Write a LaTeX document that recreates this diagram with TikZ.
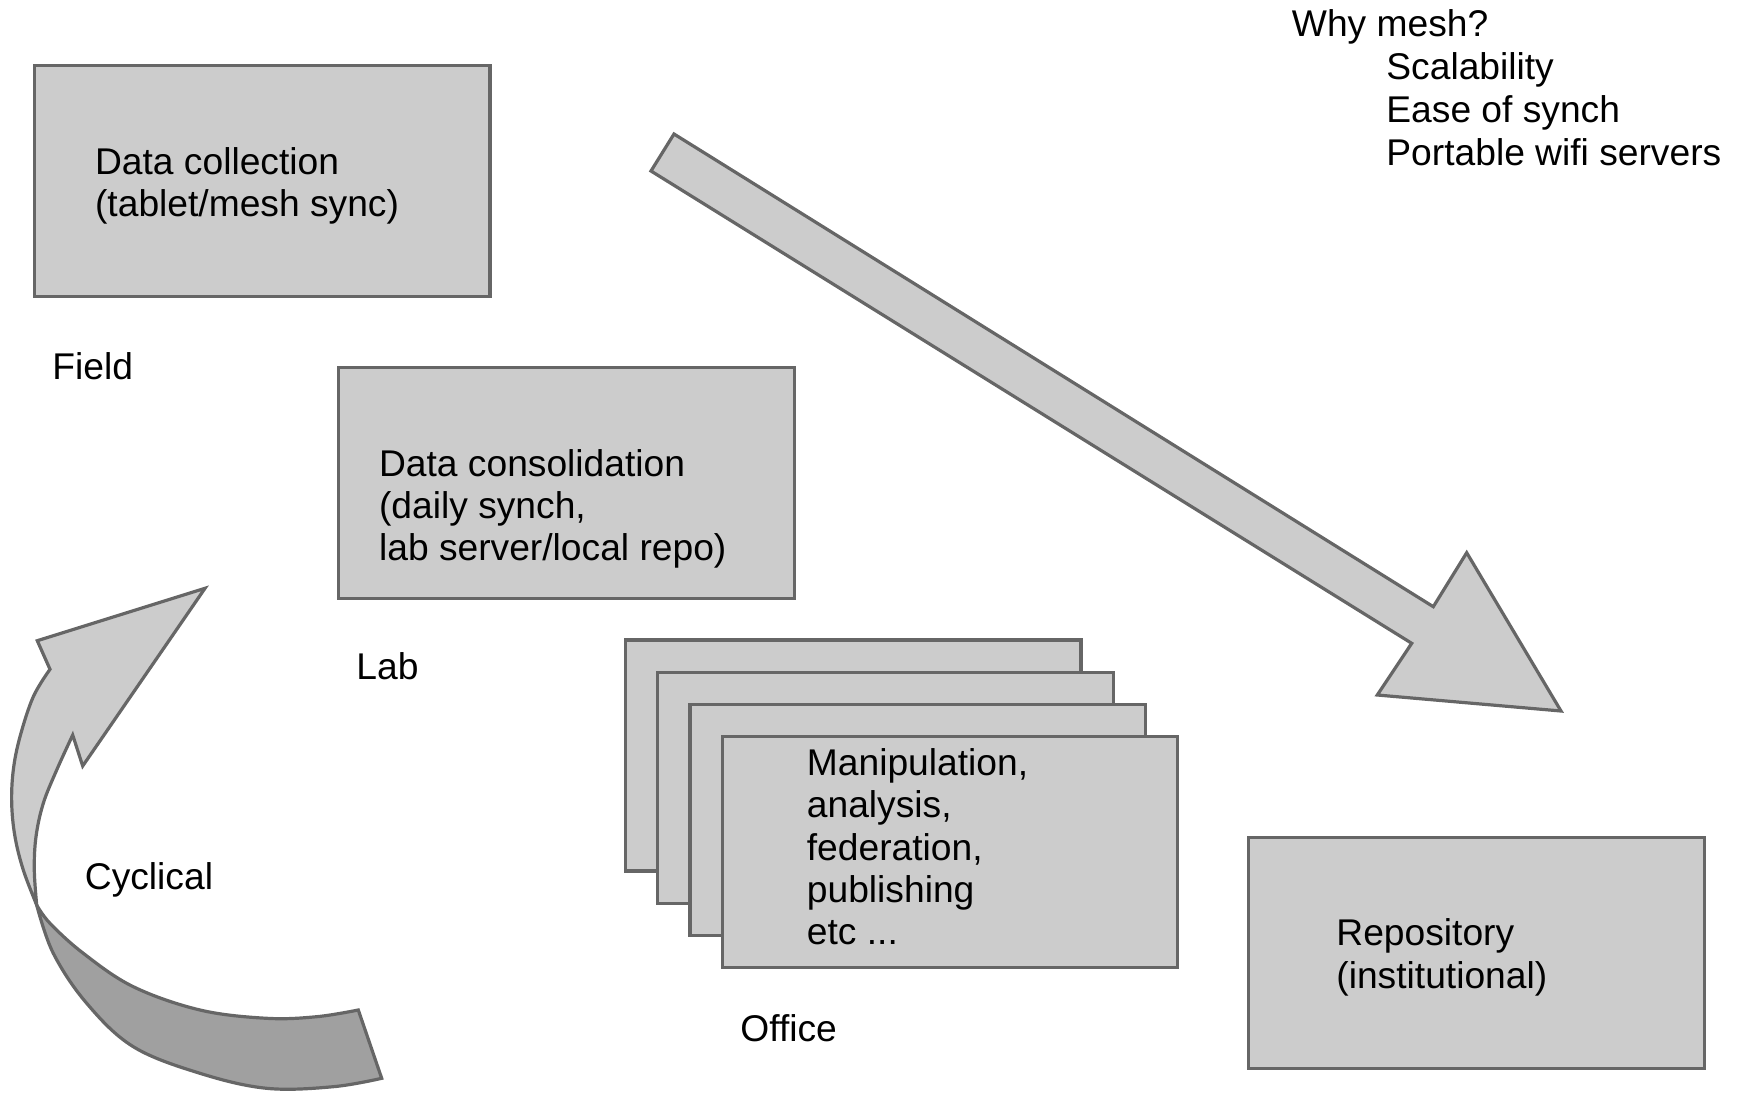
\documentclass[tikz,border=0pt]{standalone}
\usepackage{fontspec}
\setmainfont{Liberation Sans}
\definecolor{boxfill}{HTML}{CCCCCC}
\definecolor{boxline}{HTML}{666666}
\definecolor{backband}{HTML}{A0A0A0}
\begin{document}
\begin{tikzpicture}[x=0.5pt,y=-0.5pt,
  box/.style={draw=boxline, fill=boxfill, line width=1.6pt, minimum width=227.75pt, minimum height=115.5pt, inner sep=0pt},
  txt/.style={anchor=base west, inner sep=0pt, font=\fontsize{18.6}{22}\selectfont},
  shp/.style={draw=boxline, line width=1.6pt, line join=miter}]
\useasboundingbox (0,0) rectangle (1742,1098);

% boxes
\node[box] (collect) at (262.2,181) {};
\node[box] (consol) at (566.6,483.3) {};
\node[box] (officeA) at (853.2,755.5) {};
\node[box] (officeB) at (885.5,787.7) {};
\node[box] (officeC) at (917.7,820) {};
\node[box] (officeD) at (950,852.2) {};
\node[box] (repo) at (1476.5,953.3) {};

% big arrow
\filldraw[shp, fill=boxfill] (674,134) -- (1433.3,606.7) -- (1466.7,552.7) -- (1561,711)
  -- (1377.3,695) -- (1411.7,643.3) -- (651,171) -- cycle;

% curved arrow: back side of ribbon
\filldraw[shp, fill=backband] (36.7,905)
  -- plot[smooth, tension=0.6] coordinates {(36.7,905) (50,923.3) (83.3,953.3) (133.3,986.7) (200,1010) (266.7,1018.3) (316.7,1016.7) (358.3,1010)}
  -- (381.7,1078.3)
  -- plot[smooth, tension=0.6] coordinates {(381.7,1078.3) (333.3,1086.7) (266.7,1088.3) (200,1073.3) (133.3,1046.7) (86.7,1003.3) (53.3,953.3) (36.7,905)}
  -- cycle;
% curved arrow: front side with head
\filldraw[shp, fill=boxfill] (72.7,735) -- (82.7,766) -- (205,588.3) -- (37.3,640.7) -- (50,669.3)
  -- plot[smooth, tension=0.6] coordinates {(50,669.3) (33.3,696.7) (20,736.7) (13.3,770) (11.7,803.3) (15,836.7) (23.3,870) (36.7,905)}
  -- plot[smooth, tension=0.6] coordinates {(36.7,905) (34.3,870) (36,836.7) (43.3,803.3) (56.7,770) (72.7,735)}
  -- cycle;

% texts
\node[txt] (c1) at (94.7,174) {Data collection};
\node[txt] (c2) at (94.7,216.3) {(tablet/mesh sync)};
\node[txt] (d1) at (378.7,476.3) {Data consolidation};
\node[txt] (d2) at (378.7,518.6) {(daily synch,};
\node[txt] (d3) at (378.7,560.9) {lab server/local repo)};
\node[txt] (m1) at (806.5,775.5) {Manipulation,};
\node[txt] (m2) at (806.5,817.8) {analysis,};
\node[txt] (m3) at (806.5,860.1) {federation,};
\node[txt] (m4) at (806.5,902.4) {publishing};
\node[txt] (m5) at (806.5,944.7) {etc ...};
\node[txt] (r1) at (1336,945.5) {Repository};
\node[txt] (r2) at (1336,988.5) {(institutional)};
\node[txt] (field) at (52,379.5) {Field};
\node[txt] (lab) at (356,679) {Lab};
\node[txt] (office) at (740,1041) {Office};
\node[txt] (cyc) at (84.5,889.5) {Cyclical};
\node[txt] (w0) at (1291.5,36.5) {Why mesh?};
\node[txt] (w1) at (1386,79.6) {Scalability};
\node[txt] (w2) at (1386,122.7) {Ease of synch};
\node[txt] (w3) at (1386,165.8) {Portable wifi servers};
\end{tikzpicture}
\end{document}
